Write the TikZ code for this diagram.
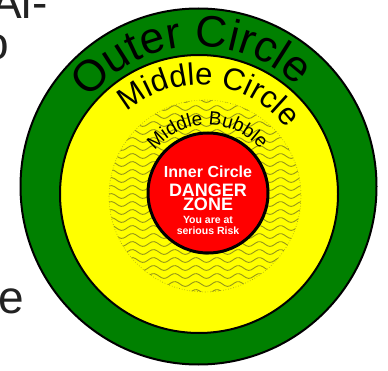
\documentclass[tikz,border=0pt]{standalone}
\usepackage{fontspec}
\setmainfont{Liberation Sans}
\usetikzlibrary{decorations.text}
\definecolor{ring}{RGB}{0,128,0}
\definecolor{zone}{RGB}{255,255,0}
\definecolor{core}{RGB}{255,0,0}
\definecolor{ripple}{RGB}{150,150,25}
\definecolor{slide}{RGB}{34,34,34}

\begin{document}
\begin{tikzpicture}[x=1pt,y=1pt,
  arclabel/.style={decorate,decoration={text along path,text align=center,text={#1}}},
  inner/.style={text=white,anchor=base,inner sep=0pt,font=\bfseries\fontsize{#1}{#1}\selectfont},
  fragment/.style={text=slide,anchor=base west,inner sep=0pt,font=\fontsize{46}{46}\selectfont}]
  \useasboundingbox (0,0) rectangle (388,370);
  \clip (0,0) rectangle (388,370);
  % slide text cut off at the left
  \node[fragment] (fragtop) at (-9,351) {Al-};
  \node[fragment] (fragmid) at (-17,310) {o};
  \node[fragment] (fragbot) at (-2,57) {e};
  % rings
  \draw[fill=ring,line width=2] (198.5,183.5) circle (178);
  \draw[fill=zone,line width=2] (199,176) circle (139);
  \begin{scope}
    \clip (205,174) circle (96);
    \foreach \h in {78,86,...,270}
      \draw[ripple,line width=0.9] plot[domain=100:310,samples=90,smooth] (\x,{\h+2.4*sin(17*\x)});
  \end{scope}
  \draw[ripple,dotted,line width=0.6] (205,174) circle (96);
  \draw[fill=core,line width=3] (208,177) circle (60);
  % curved labels
  \path[arclabel={|\fontsize{44}{44}\selectfont|Outer Circle}] (198.5,183.5) ++(173.5:140) arc (173.5:13.5:140);
  \path[arclabel={|\fontsize{31}{31}\selectfont|Middle Circle}] (199,176) ++(174:109) arc (174:-6:109);
  \path[arclabel={|\fontsize{19}{19}\selectfont|Middle Bubble}] (208,177) ++(180.5:68) arc (180.5:0.5:68);
  % centre text
  \node[inner=16] (innerlbl) at (208,193) {Inner Circle};
  \node[inner=18] (dangerlbl) at (208,174) {DANGER};
  \node[inner=18] (zonelbl) at (208,160) {ZONE};
  \node[inner=10.5] (youlbl) at (208,147) {You are at};
  \node[inner=10.5] (risklbl) at (208,136) {serious Risk};
\end{tikzpicture}
\end{document}
